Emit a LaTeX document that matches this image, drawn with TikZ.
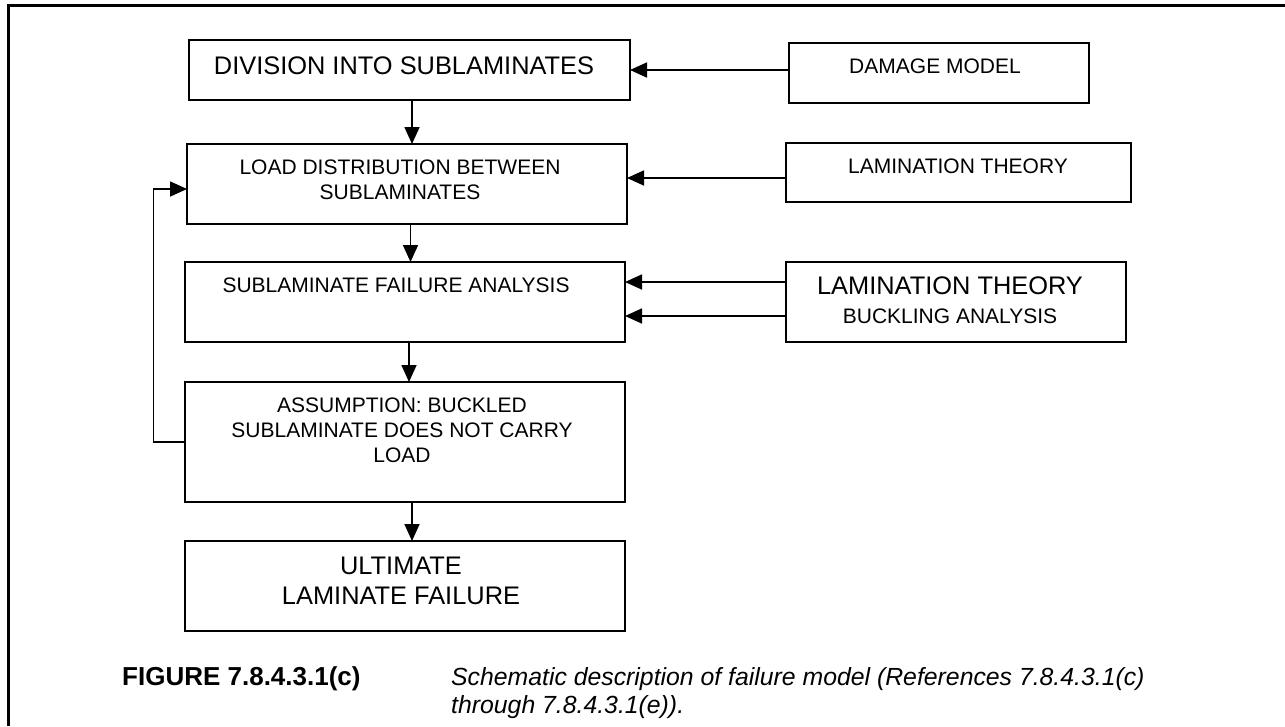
\documentclass[tikz,border=0pt]{standalone}
\usepackage{fontspec}
\setmainfont{Liberation Sans}
\usetikzlibrary{arrows.meta}
\tikzset{
  box/.style={draw, line width=1.7pt, inner sep=0pt, outer sep=0pt, rectangle},
  bigtxt/.style={font=\fontsize{25.4}{30}\selectfont, inner sep=0pt, anchor=base, align=center},
  smalltxt/.style={font=\fontsize{21}{25}\selectfont, inner sep=0pt, anchor=base, align=center},
  arr/.style={line width=1.7pt, -{Triangle[length=17pt,width=15pt]}},
  capbold/.style={font=\fontsize{26}{28}\selectfont\bfseries, inner sep=0pt, anchor=base west},
  capit/.style={font=\fontsize{24.8}{28}\selectfont\itshape, inner sep=0pt, anchor=base west, align=left}
}
\begin{document}
\begin{tikzpicture}[x=1pt,y=-1pt]
\useasboundingbox (0,0) rectangle (1285,726);
% frame
\draw[line width=3pt] (8,726) -- (8,5) -- (1285,5);
% boxes
\node[box, minimum width=441pt, minimum height=60pt] (div) at (409.5,70) {};
\node[box, minimum width=440pt, minimum height=80pt] (load) at (407,184) {};
\node[box, minimum width=440pt, minimum height=80pt] (sub) at (405,302) {};
\node[box, minimum width=440pt, minimum height=120pt] (ass) at (405,442) {};
\node[box, minimum width=440pt, minimum height=90pt] (ult) at (405,586) {};
\node[box, minimum width=300pt, minimum height=60pt] (dmg) at (939,73) {};
\node[box, minimum width=345pt, minimum height=59pt] (lt) at (958.5,172.5) {};
\node[box, minimum width=340pt, minimum height=80pt] (ltb) at (956,302) {};
% texts (multi-line nodes are anchored at the baseline of their last line)
\node[bigtxt] (divt) at (404,74) {DIVISION INTO SUBLAMINATES};
\node[smalltxt] (loadt) at (400,199) {LOAD DISTRIBUTION BETWEEN\\SUBLAMINATES};
\node[smalltxt] (subt) at (396,292) {SUBLAMINATE FAILURE ANALYSIS};
\node[smalltxt] (asst) at (402,462) {ASSUMPTION: BUCKLED\\SUBLAMINATE DOES NOT CARRY\\LOAD};
\node[bigtxt] (ultt) at (401,604) {ULTIMATE\\LAMINATE FAILURE};
\node[smalltxt] (dmgt) at (935,73) {DAMAGE MODEL};
\node[smalltxt] (ltt) at (958,173) {LAMINATION THEORY};
\node[bigtxt] (ltbt) at (950,294) {LAMINATION THEORY};
\node[smalltxt] (ltbs) at (950,323) {BUCKLING ANALYSIS};
% connectors
\draw[arr] ([yshift=3pt]dmg.west) -- ([yshift=3pt]dmg.west -| div.east);
\draw[arr] ([yshift=-5.5pt]lt.west) -- ([yshift=-5.5pt]lt.west -| load.east);
\draw[arr] ([yshift=20pt]ltb.west) -- ([yshift=20pt]ltb.west -| sub.east);
\draw[arr] ([yshift=-14pt]ltb.west) -- ([yshift=-14pt]ltb.west -| sub.east);
\draw[arr] ([xshift=2.5pt]div.south) -- ([xshift=2.5pt]div.south |- load.north);
\draw[arr] ([xshift=3.5pt]load.south) -- ([xshift=3.5pt]load.south |- sub.north);
\draw[arr] ([xshift=4pt]sub.south) -- ([xshift=4pt]sub.south |- ass.north);
\draw[arr] ([xshift=7pt]ass.south) -- ([xshift=7pt]ass.south |- ult.north);
\draw[arr] (ass.west) -- ++(-31.5,0) |- ([yshift=-5pt]load.west);
% caption
\node[capbold] (figno) at (122,685) {FIGURE 7.8.4.3.1(c)};
\node[capit] (capt) at (451,713) {Schematic description of failure model (References 7.8.4.3.1(c)\\through 7.8.4.3.1(e)).};
\end{tikzpicture}
\end{document}
